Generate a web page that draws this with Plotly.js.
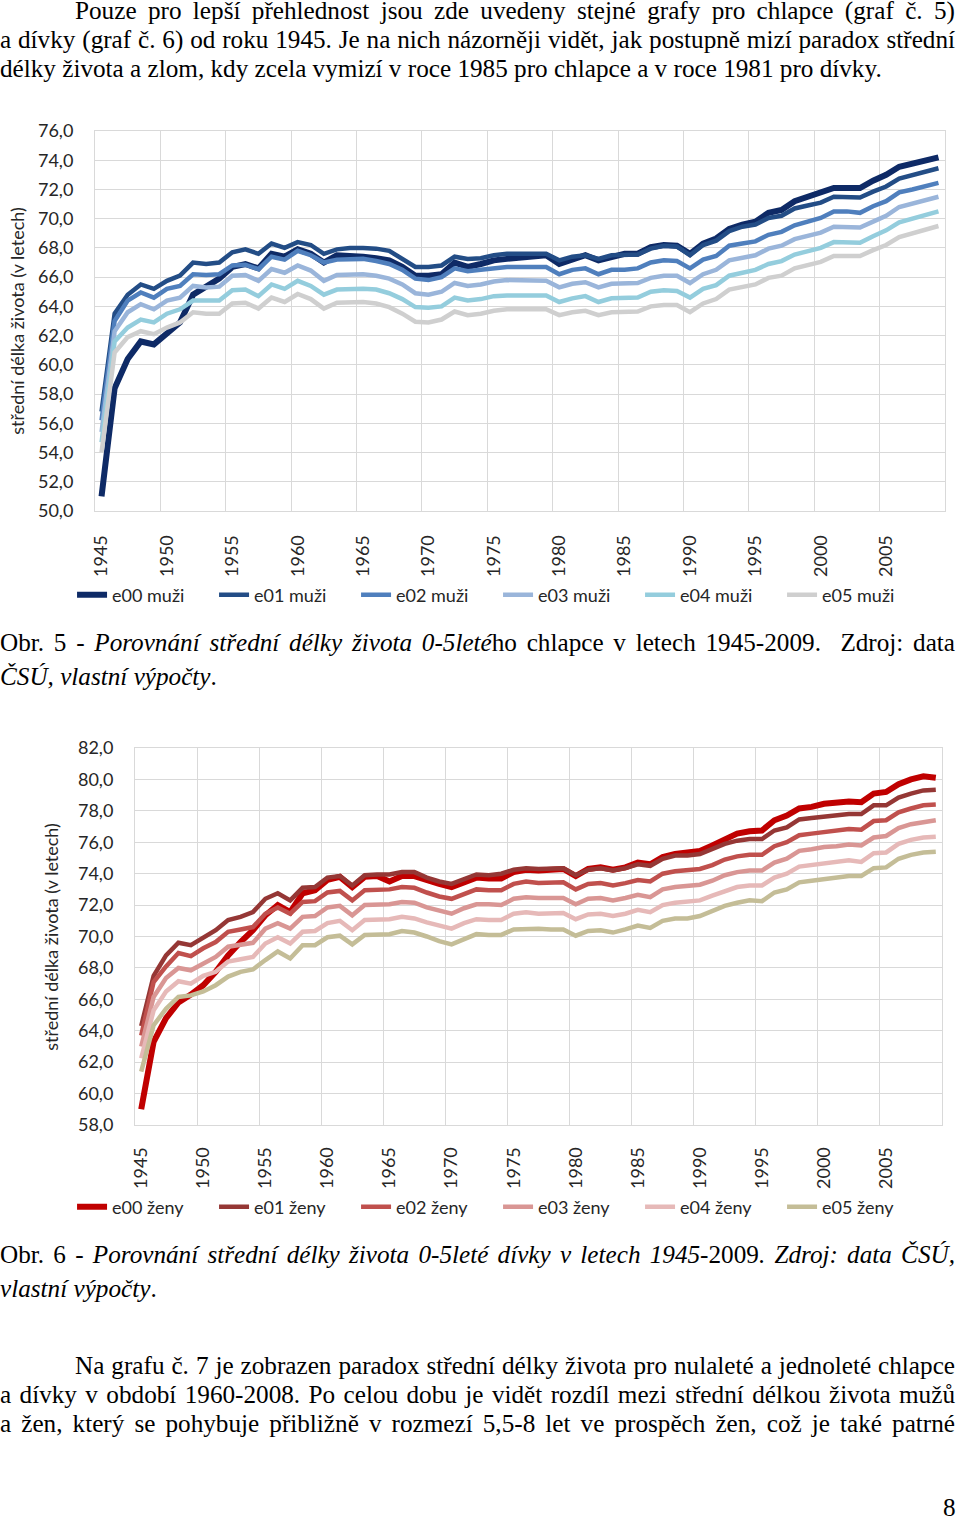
<!DOCTYPE html>
<html>
<head>
<meta charset="utf-8">
<script src="https://cdn.plot.ly/plotly-3.0.1.min.js"></script>
<style>
  html, body { margin: 0; padding: 0; background: #ffffff; }
  body { width: 960px; height: 1519px; position: relative; overflow: hidden; }
  .t { position: absolute; left: 0; width: 955px; font-family: "Liberation Serif", "Times New Roman", serif;
       font-size: 25.2px; color: #000; white-space: nowrap; line-height: 29px; }
  .j { text-align: justify; text-align-last: justify; }
  .l { text-align: left; }
  .chart { position: absolute; left: 0; width: 960px; }
</style>
</head>
<body>
<div class="t j" style="top:-4px; left:75px; width:880px;">Pouze pro lepší přehlednost jsou zde uvedeny stejné grafy pro chlapce (graf č. 5)</div>
<div class="t j" style="top:25px;">a dívky (graf č. 6) od roku 1945. Je na nich názorněji vidět, jak postupně mizí paradox střední</div>
<div class="t l" style="top:54px;">délky života a zlom, kdy zcela vymizí v roce 1985 pro chlapce a v roce 1981 pro dívky.</div>

<div id="chart1" class="chart" style="top:100px; height:535px;"></div>

<div class="t j" style="top:628px;">Obr. 5 - <i>Porovnání střední délky života 0-5leté</i>ho chlapce v letech 1945-2009.&nbsp; Zdroj: data</div>
<div class="t l" style="top:662px;"><i>ČSÚ, vlastní výpočty</i>.</div>

<div id="chart2" class="chart" style="top:720px; height:530px;"></div>

<div class="t j" style="top:1240px;">Obr. 6 - <i>Porovnání střední délky života 0-5leté dívky v letech 1945</i>-2009<i>. Zdroj: data ČSÚ,</i></div>
<div class="t l" style="top:1274px;"><i>vlastní výpočty</i>.</div>

<div class="t j" style="top:1351px; left:75px; width:880px;">Na grafu č. 7 je zobrazen paradox střední délky života pro nulaleté a jednoleté chlapce</div>
<div class="t j" style="top:1380px;">a dívky v období 1960-2008. Po celou dobu je vidět rozdíl mezi střední délkou života mužů</div>
<div class="t j" style="top:1409px;">a žen, který se pohybuje přibližně v rozmezí 5,5-8 let ve prospěch žen, což je také patrné</div>
<div class="t l" style="top:1493px; left:943px; width:20px;">8</div>

<script>
// fit justified lines that would overflow their box
document.querySelectorAll('.t').forEach(function (el) {
  var ls = 0;
  while (el.scrollWidth > el.clientWidth + 0.5 && ls > -3) {
    ls -= 0.05;
    el.style.letterSpacing = ls + 'px';
  }
});

// ---------- DATA ----------
const years = [1945,1946,1947,1948,1949,1950,1951,1952,1953,1954,1955,1956,1957,1958,1959,
  1960,1961,1962,1963,1964,1965,1966,1967,1968,1969,1970,1971,1972,1973,1974,1975,1976,1977,
  1978,1979,1980,1981,1982,1983,1984,1985,1986,1987,1988,1989,1990,1991,1992,1993,1994,1995,
  1996,1997,1998,1999,2000,2001,2002,2003,2004,2005,2006,2007,2008,2009];
const tickYears = [1945,1950,1955,1960,1965,1970,1975,1980,1985,1990,1995,2000,2005];

const namesMen = ["e00 muži","e01 muži","e02 muži","e03 muži","e04 muži","e05 muži"];
const namesWomen = ["e00 ženy","e01 ženy","e02 ženy","e03 ženy","e04 ženy","e05 ženy"];

const e00_muzi = [51.0,58.4,60.4,61.6,61.4,62.1,62.9,64.8,65.4,65.9,66.7,66.9,66.6,67.6,67.4,67.9,67.6,67.0,67.5,67.5,67.4,67.3,
  67.15,66.7,66.1,66.1,66.2,67.0,66.7,66.9,67.15,67.25,67.3,67.4,67.5,66.9,67.25,67.5,67.15,67.4,67.6,67.6,68.05,
  68.2,68.15,67.6,68.3,68.65,69.3,69.6,69.8,70.4,70.6,71.2,71.5,71.7,72.1,72.1,72.1,72.6,73.0,73.55,73.8,74.0,74.2];
const e01_muzi = [56.8,63.5,64.8,65.5,65.2,65.75,66.1,67.0,66.9,67.0,67.7,67.9,67.6,68.3,68.0,68.4,68.2,67.6,67.9,68.0,68.0,67.95,
  67.8,67.25,66.7,66.7,66.8,67.4,67.25,67.3,67.5,67.6,67.6,67.6,67.6,67.15,67.4,67.5,67.25,67.5,67.55,67.55,67.95,
  68.15,68.1,67.5,68.2,68.5,69.15,69.45,69.6,70.05,70.2,70.7,70.9,71.1,71.5,71.5,71.45,71.85,72.2,72.75,73.0,73.2,73.45];
const e02_muzi = [56.2,63.0,64.4,64.95,64.6,65.2,65.4,66.2,66.15,66.2,66.8,66.85,66.55,67.4,67.2,67.8,67.5,67.0,67.2,67.25,67.25,67.1,
  66.9,66.5,65.9,65.8,66.0,66.6,66.4,66.5,66.6,66.7,66.7,66.7,66.7,66.2,66.5,66.6,66.2,66.5,66.5,66.6,67.0,
  67.15,67.1,66.6,67.2,67.45,68.15,68.3,68.45,68.9,69.1,69.55,69.8,70.05,70.5,70.5,70.4,70.85,71.2,71.8,72.0,72.25,72.45];
const e03_muzi = [55.4,62.3,63.6,64.15,63.8,64.4,64.6,65.4,65.3,65.35,66.1,66.15,65.75,66.55,66.3,66.8,66.45,65.75,66.15,66.2,66.2,66.1,
  65.9,65.5,64.9,64.8,65.0,65.6,65.4,65.5,65.7,65.8,65.8,65.8,65.75,65.3,65.55,65.65,65.3,65.55,65.55,65.6,65.95,
  66.1,66.1,65.6,66.2,66.5,67.15,67.3,67.5,67.95,68.15,68.6,68.8,69.05,69.45,69.45,69.4,69.8,70.2,70.8,71.05,71.25,71.5];
const e04_muzi = [54.7,61.6,62.55,63.1,62.9,63.5,63.8,64.4,64.4,64.4,65.1,65.15,64.7,65.5,65.2,65.75,65.4,64.8,65.15,65.2,65.2,65.15,
  64.9,64.5,63.95,63.9,64.0,64.6,64.4,64.5,64.7,64.75,64.75,64.75,64.75,64.3,64.55,64.7,64.3,64.55,64.55,64.6,65.0,
  65.1,65.05,64.6,65.2,65.45,66.1,66.3,66.5,66.9,67.1,67.55,67.8,68.0,68.4,68.4,68.35,68.8,69.2,69.75,70.0,70.25,70.5];
const e05_muzi = [54.0,60.85,61.9,62.3,62.1,62.55,62.9,63.6,63.5,63.5,64.2,64.25,63.85,64.6,64.3,64.85,64.5,63.85,64.25,64.3,64.3,64.2,
  63.95,63.5,62.95,62.9,63.1,63.65,63.4,63.5,63.7,63.8,63.8,63.8,63.8,63.4,63.6,63.7,63.4,63.6,63.6,63.65,64.0,
  64.1,64.1,63.6,64.2,64.5,65.15,65.3,65.5,65.95,66.1,66.6,66.8,67.05,67.45,67.45,67.45,67.85,68.2,68.75,69.0,69.25,69.5];

const e00_zeny = [59.0,63.3,64.8,65.8,66.3,66.9,67.75,68.8,69.65,70.4,71.35,72.0,71.55,72.75,72.95,73.6,73.8,73.15,73.8,73.85,73.5,73.85,
  73.85,73.55,73.35,73.15,73.45,73.75,73.7,73.7,74.1,74.25,74.2,74.25,74.3,73.85,74.3,74.4,74.25,74.4,74.7,74.6,75.05,
  75.25,75.35,75.45,75.8,76.2,76.55,76.7,76.75,77.4,77.7,78.15,78.25,78.45,78.55,78.6,78.55,79.1,79.2,79.7,80.0,80.2,80.1];
const e01_zeny = [64.3,67.5,68.8,69.6,69.45,69.9,70.4,71.05,71.25,71.55,72.4,72.75,72.3,73.1,73.15,73.75,73.85,73.25,73.9,73.95,73.95,74.1,
  74.1,73.75,73.5,73.35,73.65,73.95,73.9,74.0,74.25,74.35,74.3,74.3,74.35,73.9,74.25,74.35,74.2,74.35,74.6,74.5,74.95,
  75.15,75.15,75.25,75.55,75.9,76.1,76.2,76.2,76.75,76.95,77.45,77.55,77.65,77.7,77.8,77.8,78.35,78.35,78.85,79.1,79.3,79.35];
const e02_zeny = [63.7,67.1,68.1,68.95,68.75,69.25,69.65,70.3,70.45,70.6,71.45,71.85,71.45,72.2,72.25,72.8,72.9,72.3,72.95,73.0,73.0,73.15,
  73.1,72.8,72.55,72.4,72.7,73.0,72.95,72.95,73.35,73.5,73.4,73.4,73.45,73.0,73.35,73.4,73.25,73.4,73.6,73.5,74.0,
  74.15,74.2,74.3,74.55,74.9,75.1,75.2,75.2,75.75,76.0,76.45,76.55,76.65,76.75,76.85,76.8,77.35,77.4,77.9,78.15,78.35,78.4];
const e03_zeny = [63.0,66.15,67.35,68.0,67.85,68.3,68.7,69.35,69.5,69.6,70.5,70.85,70.5,71.25,71.3,71.85,71.95,71.35,72.0,72.05,72.05,72.2,
  72.15,71.85,71.65,71.45,71.8,72.05,72.05,72.0,72.4,72.5,72.45,72.45,72.45,72.05,72.4,72.45,72.3,72.45,72.65,72.5,73.0,
  73.15,73.2,73.3,73.55,73.9,74.1,74.2,74.2,74.7,74.95,75.45,75.55,75.7,75.75,75.85,75.8,76.3,76.4,76.9,77.15,77.3,77.4];
const e04_zeny = [62.25,65.3,66.5,67.15,67.0,67.5,67.75,68.4,68.55,68.7,69.55,69.95,69.55,70.3,70.35,70.85,71.0,70.4,71.05,71.1,71.1,71.25,
  71.15,70.9,70.7,70.5,70.85,71.1,71.05,71.05,71.45,71.55,71.45,71.45,71.5,71.1,71.4,71.45,71.3,71.45,71.7,71.55,72.0,
  72.15,72.2,72.3,72.6,72.9,73.15,73.25,73.25,73.75,74.0,74.45,74.55,74.7,74.75,74.85,74.75,75.3,75.35,75.9,76.15,76.3,76.35];
const e05_zeny = [61.4,64.35,65.4,66.15,66.25,66.5,66.9,67.45,67.75,67.9,68.5,69.05,68.6,69.45,69.45,69.95,70.05,69.5,70.1,70.15,70.15,70.35,
  70.25,70.0,69.7,69.5,69.85,70.15,70.1,70.1,70.45,70.5,70.5,70.45,70.45,70.05,70.35,70.4,70.25,70.45,70.7,70.55,71.0,
  71.15,71.15,71.3,71.65,71.95,72.15,72.3,72.25,72.8,73.0,73.45,73.55,73.65,73.75,73.85,73.85,74.35,74.4,74.95,75.2,75.35,75.4];

const colorsMen = ["#0e2a66","#234d86","#4f7fbd","#9ab5da","#94cddd","#cfcfcf"];
const colorsWomen = ["#c00000","#953735","#c0504d","#d99694","#e6b9b8","#c4bd97"];
const widths = [6, 4.5, 4.5, 4.5, 4.5, 4.5];

// ---------- CHART BUILDER ----------
const FONT = "Lato, 'Open Sans', sans-serif";
const GRID = "#d9d9d9";

function makeTraces(series, names, colors) {
  return series.map((s, k) => ({
    type: "scatter", mode: "lines", x: years, y: s, name: names[k],
    line: {color: colors[k], width: widths[k], shape: "linear"},
    hoverinfo: "skip"
  }));
}

function makeLayout(opts) {
  return {
    width: 960, height: opts.height,
    margin: {l: opts.l, r: opts.r, t: opts.t, b: opts.b},
    paper_bgcolor: "rgba(0,0,0,0)", plot_bgcolor: "#ffffff",
    separators: ", ",
    font: {family: FONT, size: 18, color: "#262626"},
    showlegend: true,
    legend: {orientation: "h", x: opts.legX, xanchor: "left", y: opts.legY, yanchor: "middle",
             font: {family: FONT, size: 18, color: "#262626"}, entrywidth: 97, entrywidthmode: "pixels",
             bgcolor: "rgba(0,0,0,0)", traceorder: "normal", itemclick: false},
    xaxis: {
      type: "linear", range: [1944.5, 2009.5], tickmode: "array",
      tickvals: tickYears, ticktext: tickYears.map(String), tickangle: -90,
      showgrid: false, zeroline: false, showline: true, linecolor: GRID, linewidth: 1, mirror: true,
      ticks: "", ticklabelstandoff: opts.xStand,
      tickfont: {family: FONT, size: 18, color: "#262626"},
      minor: {tick0: 1944.5, dtick: 5, showgrid: true, gridcolor: GRID, gridwidth: 1, ticks: ""}
    },
    yaxis: {
      range: [opts.ymin, opts.ymax], tick0: opts.ymin, dtick: 2, tickformat: ".1f",
      showgrid: true, gridcolor: GRID, gridwidth: 1, zeroline: false,
      showline: true, linecolor: GRID, linewidth: 1, mirror: true,
      ticks: "", ticklabelstandoff: opts.yStand,
      tickfont: {family: FONT, size: 18, color: "#262626"}
    },
    annotations: [{
      text: "střední délka života (v letech)", textangle: -90, showarrow: false,
      xref: "paper", yref: "paper", x: opts.titleX, y: 0.5, xanchor: "center", yanchor: "middle",
      font: {family: FONT, size: 18, color: "#262626"}
    }]
  };
}

const cfg = {staticPlot: true, displayModeBar: false};

Plotly.newPlot("chart1",
  makeTraces([e00_muzi, e01_muzi, e02_muzi, e03_muzi, e04_muzi, e05_muzi], namesMen, colorsMen),
  makeLayout({height: 535, l: 95, r: 15, t: 31, b: 124, ymin: 50, ymax: 76,
              legX: -0.027, legY: -0.221, xStand: 16, yStand: 17, titleX: -0.092}),
  cfg);

Plotly.newPlot("chart2",
  makeTraces([e00_zeny, e01_zeny, e02_zeny, e03_zeny, e04_zeny, e05_zeny], namesWomen, colorsWomen),
  makeLayout({height: 530, l: 135, r: 18, t: 28, b: 125, ymin: 58, ymax: 82,
              legX: -0.078, legY: -0.2175, xStand: 14, yStand: 17, titleX: -0.105}),
  cfg);
</script>
</body>
</html>
